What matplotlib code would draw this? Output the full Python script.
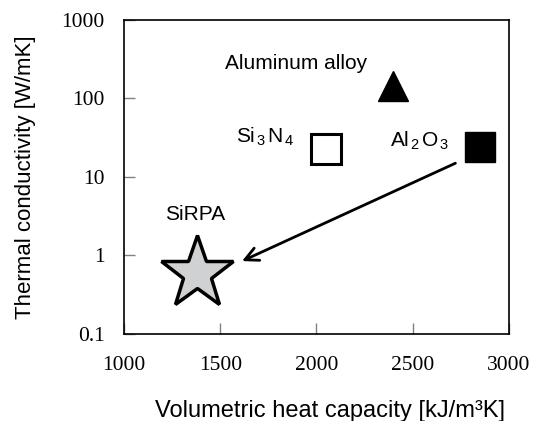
import matplotlib.pyplot as plt

plt.rcParams['font.family'] = ['Liberation Sans', 'DejaVu Sans']
plt.rcParams['mathtext.fontset'] = 'custom'
plt.rcParams['mathtext.rm'] = 'Liberation Sans'
plt.rcParams['mathtext.it'] = 'Liberation Sans'

# material data: volumetric heat capacity [kJ/m3K], thermal conductivity [W/mK]
materials = ['Aluminum alloy', 'Si3N4', 'Al2O3', 'SiRPA']
heat_capacity = [2400, 2050, 2850, 1380]
conductivity = [145, 23, 24, 0.6]

xticks = [1000, 1500, 2000, 2500, 3000]
yticks = [0.1, 1, 10, 100, 1000]
ytick_labels = ['0.1', '1', '10', '100', '1000']

fig = plt.figure(figsize=(5.38, 4.21), dpi=100)
ax = fig.add_axes([0.2305, 0.2067, 0.7155, 0.7458])

# markers
ax.plot(heat_capacity[0], conductivity[0], marker='^', ms=21, color='black', mec='black')
ax.plot(heat_capacity[1], conductivity[1], marker='s', ms=21, mfc='white', mec='black', mew=2.2)
ax.plot(heat_capacity[2], conductivity[2], marker='s', ms=21, color='black')
ax.plot(heat_capacity[3], conductivity[3], marker='*', ms=55, mfc='#d0d1d3', mec='black', mew=2.5)

# arrow from Al2O3 towards SiRPA
ax.annotate('', xy=(1600, 0.82), xytext=(2735, 15.5),
            arrowprops=dict(arrowstyle='->', lw=2, color='black', mutation_scale=24))

# labels
ax.text(1894, 283, 'Aluminum alloy', fontsize=15, ha='center', va='center')
ax.text(1732, 32, r'Si$_{\,3\,}$N$_{\,4}$', fontsize=15, ha='center', va='center')
ax.text(2538, 29, r'Al$_{\,2\,}$O$_{\,3}$', fontsize=15, ha='center', va='center')
ax.text(1369, 3.3, 'SiRPA', fontsize=15, ha='center', va='center')

ax.set_yscale('log')
ax.set_xlim(1000, 3000)
ax.set_ylim(0.1, 1000)
ax.set_xticks(xticks)
ax.set_xticklabels([str(v) for v in xticks], family='Liberation Serif', fontsize=15.5)
ax.set_yticks(yticks)
ax.set_yticklabels(ytick_labels, family='Liberation Serif', fontsize=15.5)
ax.minorticks_off()
ax.tick_params(direction='in', length=8, width=1, color='#808080', pad=14)
ax.tick_params(axis='x', pad=16)

for s in ax.spines.values():
    s.set_linewidth(1.2)
    s.set_color('black')

ax.set_xlabel('Volumetric heat capacity [kJ/m\u00b3K]', fontsize=17)
ax.xaxis.set_label_coords(0.535, -0.21)
ax.set_ylabel('Thermal conductivity [W/mK]', fontsize=16, labelpad=18)

fig.savefig('out.png', dpi=100)
